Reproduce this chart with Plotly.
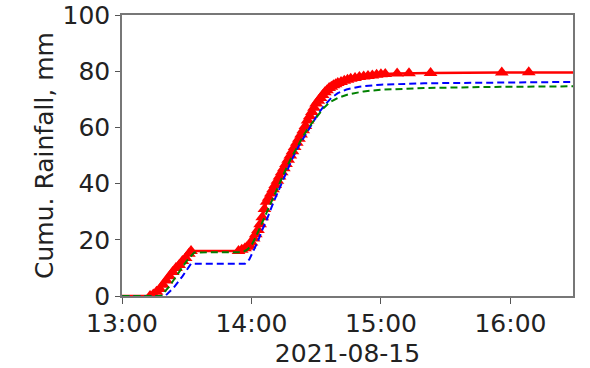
import plotly.graph_objects as go
import pandas as pd

DAY = "2021-08-15"
START = pd.Timestamp(DAY + " 13:00")

# Red observed series (minutes after 13:00, cumulative mm)
red_min = [-10, 13, 14.5, 16, 17.5, 19, 20.5, 22, 23.5, 25, 26.5, 28, 29.5, 31, 32,
           54, 55.5, 57, 58, 59, 60, 61, 62, 63, 64, 65, 66, 67, 68, 69, 70, 71, 72,
           73, 74, 75, 76, 77, 78, 79, 80, 81, 82, 83, 84, 85, 86, 87, 88, 89, 90,
           91, 92, 93, 94, 95, 96, 97, 98, 99, 100, 101.5, 103, 104.5, 106, 108,
           110, 112, 114, 116, 118, 120, 122, 127.5, 133, 143, 176, 188.5, 240]
red_mm = [0, 0, 0.5, 1.5, 2.5, 4, 5.5, 7, 8.5, 10, 11, 12.5, 13.5, 15, 16,
          16, 16.5, 17, 17.5, 18, 19, 20.5, 22, 23.5, 25.5, 28, 31, 33.5, 35, 36.5,
          38, 39.5, 41, 42.5, 44, 45.5, 47, 48.5, 50, 51.5, 53, 54.5, 56, 57.5, 59,
          60.5, 62.5, 64, 65.5, 67, 68.5, 69.5, 70.5, 71.5, 72.5, 73.2, 74, 74.5,
          75, 75.4, 75.8, 76.2, 76.6, 77, 77.3, 77.6, 77.9, 78.1, 78.3, 78.5, 78.7,
          78.9, 79, 79.2, 79.3, 79.4, 79.5, 79.6, 79.6]

# Blue dashed series
blue_min = [-10, 20, 24, 28, 32, 57, 59, 61, 63, 65, 67, 70, 73, 76, 79, 82, 85,
            88, 91, 94, 97, 100, 104, 110, 120, 140, 170, 240]
blue_mm = [0, 0, 3, 7, 11.5, 11.5, 13, 16, 19.5, 23.5, 27, 33, 38.5, 44, 49, 53.5,
           57.5, 61.5, 65, 68, 70.5, 72.2, 73.5, 74.5, 75.2, 75.7, 76, 76.4]

# Green dashed series
green_min = [-10, 18, 22, 26, 30, 33.5, 56, 58, 60, 62, 64, 66, 69, 72, 75, 78,
             81, 84, 87, 90, 93, 96, 100, 105, 112, 120, 140, 170, 240]
green_mm = [0, 0, 3.5, 8, 12.5, 15.5, 15.6, 16.5, 18, 21, 24.5, 28, 33.5, 38.5,
            43.5, 48.5, 53, 57, 60.5, 63.5, 66.5, 68.8, 70.5, 71.8, 72.8, 73.4, 74,
            74.4, 74.8]

x_ticks = ["13:00", "14:00", "15:00", "16:00"]
y_ticks = [0, 20, 40, 60, 80, 100]


def to_time(mins):
    return [START + pd.Timedelta(minutes=m) for m in mins]


fig = go.Figure()
fig.add_trace(go.Scatter(x=to_time(red_min), y=red_mm, mode="lines+markers",
                         line=dict(color="red", width=2.5),
                         marker=dict(symbol="triangle-up", size=12, color="red")))
fig.add_trace(go.Scatter(x=to_time(blue_min), y=blue_mm, mode="lines",
                         line=dict(color="blue", width=2, dash="7px,4px")))
fig.add_trace(go.Scatter(x=to_time(green_min), y=green_mm, mode="lines",
                         line=dict(color="green", width=2, dash="7px,4px")))

font = dict(family="DejaVu Sans", size=25, color="#222")
tickvals = [pd.Timestamp(DAY + " " + t) for t in x_ticks]
fig.update_layout(
    width=590, height=368, margin=dict(l=122, r=17, t=15, b=72),
    plot_bgcolor="white", paper_bgcolor="white", showlegend=False, font=font,
)
fig.update_xaxes(range=[START, START + pd.Timedelta(minutes=209)],
                 tickvals=tickvals, ticktext=x_ticks, ticks="outside", ticklen=6,
                 tickcolor="#555", showline=True, linecolor="#777", linewidth=1.5,
                 mirror=True, showgrid=False, zeroline=False, tickfont=font,
                 automargin=False, ticklabelstandoff=-2,
                 title=dict(text=DAY, standoff=10, font=font))
fig.update_yaxes(range=[0, 100], tickvals=y_ticks, ticks="outside", ticklen=5,
                 tickcolor="#555", showline=True, linecolor="#777", linewidth=1.5,
                 mirror=True, showgrid=False, zeroline=False, tickfont=font,
                 automargin=False,
                 title=dict(text="Cumu. Rainfall, mm", standoff=2, font=font))
fig.write_html("out.html")
